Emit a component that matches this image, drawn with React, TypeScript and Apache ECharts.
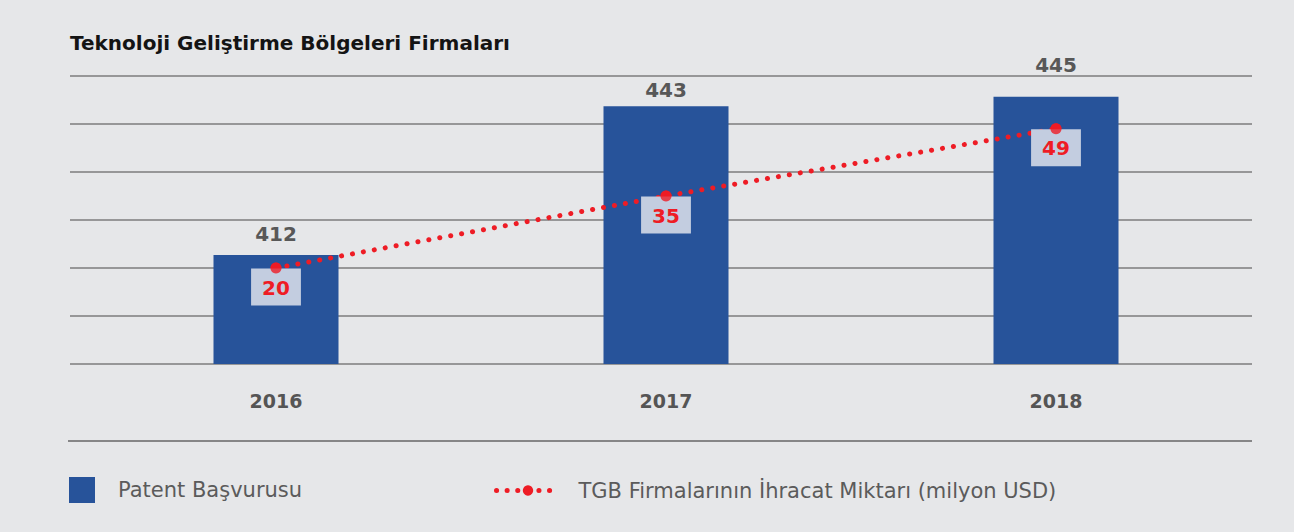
import React, { useEffect, useRef } from "react";
import * as echarts from "echarts";

const categories = ["2016", "2017", "2018"];
const patentValues = [412, 443, 445];
const exportValues = [20, 35, 49];
const barName = "Patent Başvurusu";
const lineName = "TGB Firmalarının İhracat Miktarı (milyon USD)";
const titleText = "Teknoloji Geliştirme Bölgeleri Firmaları";
// distance of each bar's value label above the bar (layout, not data)
const barLabelGaps = [11, 6, 22];

const FONT = "DejaVu Sans";
const RED = "#ee1c25";
const BLUE = "#27539a";

export default function App() {
  const ref = useRef<HTMLDivElement>(null);
  useEffect(() => {
    document.body.style.margin = "0";
    const chart = echarts.init(ref.current!, undefined, { renderer: "svg" });
    chart.setOption({
      animation: false,
      backgroundColor: "#e6e7e9",
      textStyle: { fontFamily: FONT },
      title: {
        text: titleText,
        left: 65,
        top: 28,
        textStyle: { fontSize: 20, fontWeight: "bold", color: "#141414", fontFamily: FONT },
      },
      grid: [
        { left: 70, right: 42, top: 76, height: 288 },
        { left: 81, right: 43, top: 76, height: 288 },
      ],
      xAxis: [
        { gridIndex: 0, type: "value", show: false, min: 0, max: 1 },
        {
          gridIndex: 1,
          type: "category",
          data: categories,
          axisLine: { show: false },
          axisTick: { show: false },
          axisLabel: { margin: 27, fontSize: 19, fontWeight: "bold", color: "#555555", fontFamily: FONT },
        },
      ],
      yAxis: [
        {
          gridIndex: 0,
          type: "value",
          min: 390,
          max: 450,
          interval: 10,
          axisLabel: { show: false },
          axisLine: { show: false },
          axisTick: { show: false },
          splitLine: { lineStyle: { color: "#7d7d7d", width: 1.5 } },
        },
        { gridIndex: 1, type: "value", min: 389.3, max: 449.3, show: false, splitLine: { show: false } },
        { gridIndex: 1, type: "value", min: 0, max: 60, show: false, splitLine: { show: false } },
      ],
      legend: [
        {
          data: [barName],
          left: 69,
          top: 477,
          padding: 0,
          itemWidth: 26,
          itemHeight: 26,
          icon: "rect",
          textStyle: { fontSize: 21, color: "#5b5b5b", padding: [0, 0, 0, 18], fontFamily: FONT },
        },
        {
          data: [lineName],
          left: 494,
          top: 480,
          padding: 0,
          itemWidth: 63,
          itemHeight: 13,
          lineStyle: { type: [0.1, 10.5], width: 5, cap: "round", color: RED },
          itemStyle: { color: RED },
          textStyle: { fontSize: 21, color: "#5b5b5b", padding: [0, 0, 0, 14], fontFamily: FONT },
        },
      ],
      graphic: [
        {
          type: "line",
          shape: { x1: 68, y1: 441, x2: 1252, y2: 441 },
          style: { stroke: "#666666", lineWidth: 1.5 },
        },
      ],
      series: [
        {
          name: barName,
          type: "bar",
          xAxisIndex: 1,
          yAxisIndex: 1,
          data: patentValues.map((v, i) => ({ value: v, label: { distance: barLabelGaps[i] } })),
          barWidth: 125,
          itemStyle: { color: BLUE },
          label: {
            show: true,
            position: "top",
            fontSize: 20,
            fontWeight: "bold",
            color: "#585858",
            fontFamily: FONT,
          },
        },
        {
          name: lineName,
          type: "line",
          xAxisIndex: 1,
          yAxisIndex: 2,
          data: exportValues,
          symbol: "circle",
          symbolSize: 11,
          itemStyle: { color: RED },
          lineStyle: { color: RED, width: 5, type: [0.1, 11], cap: "round" },
          label: {
            show: true,
            position: "bottom",
            distance: -5,
            backgroundColor: "#c3cde0",
            padding: [9, 11, 8, 11],
            fontSize: 20,
            fontWeight: "bold",
            color: RED,
            fontFamily: FONT,
          },
          z: 3,
        },
        {
          type: "scatter",
          xAxisIndex: 1,
          yAxisIndex: 2,
          data: exportValues,
          symbol: "circle",
          symbolSize: 11,
          itemStyle: { color: RED },
          silent: true,
          z: 6,
        },
      ],
    });
    return () => chart.dispose();
  }, []);
  return <div ref={ref} style={{ width: 1294, height: 532 }} />;
}
